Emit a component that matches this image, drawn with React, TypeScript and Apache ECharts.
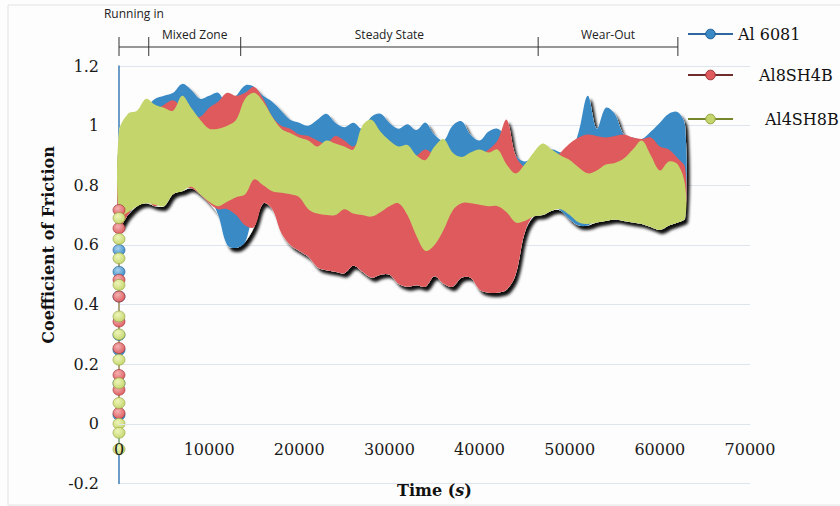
import React, { useEffect, useRef } from 'react';
import * as echarts from 'echarts';

// time samples (s)
const TIME = [
  0, 1000, 2000, 3000, 4000, 5000, 6000, 7000, 8000, 9000,
  10000, 11000, 12000, 13000, 14000, 15000, 16000, 17000, 18000, 19000,
  20000, 21000, 22000, 23000, 24000, 25000, 26000, 27000, 28000, 29000,
  30000, 31000, 32000, 33000, 34000, 35000, 36000, 37000, 38000, 39000,
  40000, 41000, 42000, 43000, 44000, 45000, 46000, 47000, 48000, 49000,
  50000, 51000, 52000, 53000, 54000, 55000, 56000, 57000, 58000, 59000,
  60000, 61000, 62000, 62800,
];

// Al 6081 envelope (upper / lower coefficient of friction)
const AL6081_HI = [
  0.95, 1.0, 1.03, 1.06, 1.09, 1.1, 1.11, 1.14, 1.12, 1.09,
  1.1, 1.11, 1.07, 1.1, 1.135, 1.13, 1.1, 1.08, 1.05, 1.02,
  1.01, 1.0, 1.02, 1.04, 1.01, 0.995, 1.01, 0.99, 1.03, 1.04,
  1.01, 0.99, 1.005, 0.985, 1.01, 0.97, 0.95, 1.0, 1.015, 0.97,
  0.95, 0.98, 0.99, 0.96, 0.9, 0.88, 0.895, 0.9, 0.92, 0.91,
  0.9, 0.98, 1.1, 0.99, 1.06, 1.04, 0.97, 0.96, 0.955, 0.98,
  1.01, 1.04, 1.045, 1.0,
];
const AL6081_LO = [
  0.68, 0.7, 0.74, 0.75, 0.74, 0.76, 0.78, 0.79, 0.8, 0.78,
  0.76, 0.7, 0.6, 0.59, 0.61, 0.72, 0.76, 0.74, 0.7, 0.66,
  0.66, 0.65, 0.64, 0.64, 0.65, 0.66, 0.65, 0.64, 0.64, 0.65,
  0.66, 0.65, 0.64, 0.65, 0.66, 0.65, 0.64, 0.65, 0.66, 0.65,
  0.64, 0.65, 0.66, 0.65, 0.66, 0.69, 0.705, 0.71, 0.725, 0.715,
  0.685, 0.665, 0.665, 0.685, 0.69, 0.695, 0.69, 0.685, 0.68, 0.67,
  0.66, 0.675, 0.685, 0.7,
];

// Al8SH4B envelope
const AL8SH4B_HI = [
  0.95, 0.98, 1.0, 1.04, 1.05, 1.07, 1.085, 1.06, 1.04, 1.03,
  1.06, 1.08, 1.11, 1.1, 1.11, 1.13, 1.09, 1.03, 1.0, 0.99,
  0.97, 0.965, 0.95, 0.94, 0.965, 0.95, 0.93, 0.96, 0.92, 0.93,
  0.92, 0.91, 0.9, 0.9, 0.92, 0.9, 0.89, 0.9, 0.89, 0.89,
  0.9, 0.92, 0.95, 1.02, 0.9, 0.86, 0.85, 0.86, 0.88, 0.91,
  0.94, 0.96, 0.97, 0.965, 0.96, 0.965, 0.97, 0.96, 0.955, 0.96,
  0.93, 0.92, 0.89, 0.86,
];
const AL8SH4B_LO = [
  0.66, 0.7, 0.74, 0.75, 0.73, 0.75, 0.77, 0.79, 0.79, 0.77,
  0.74, 0.72, 0.72, 0.7, 0.665, 0.66, 0.74, 0.72, 0.64, 0.6,
  0.58, 0.56, 0.525, 0.515, 0.51, 0.505, 0.53, 0.51, 0.49, 0.5,
  0.5, 0.47, 0.46, 0.465, 0.46, 0.495, 0.47, 0.46, 0.49, 0.49,
  0.45, 0.44, 0.44, 0.45, 0.5, 0.64, 0.7, 0.71, 0.72, 0.725,
  0.705, 0.685, 0.68, 0.685, 0.69, 0.695, 0.69, 0.685, 0.68, 0.67,
  0.66, 0.675, 0.685, 0.7,
];

// Al4SH8B envelope
const AL4SH8B_HI = [
  0.98, 1.04, 1.05, 1.09, 1.07, 1.06, 1.05, 1.1, 1.06, 1.02,
  0.99, 0.99, 1.0, 1.02, 1.09, 1.11, 1.08, 1.03, 0.99, 0.975,
  0.96, 0.95, 0.93, 0.95, 0.94, 0.93, 0.92, 1.0, 1.02, 0.98,
  0.95, 0.93, 0.935, 0.9, 0.885, 0.93, 0.955, 0.91, 0.895, 0.91,
  0.92, 0.91, 0.92, 0.87, 0.84, 0.87, 0.91, 0.94, 0.92, 0.9,
  0.885, 0.86, 0.84, 0.85, 0.87, 0.875, 0.89, 0.92, 0.95, 0.9,
  0.85, 0.88, 0.87, 0.8,
];
const AL4SH8B_LO = [
  0.7, 0.71, 0.73, 0.74, 0.735, 0.73, 0.77, 0.78, 0.795, 0.77,
  0.745, 0.73, 0.745, 0.76, 0.77, 0.82, 0.8, 0.78, 0.775, 0.77,
  0.76, 0.72, 0.705, 0.7, 0.7, 0.72, 0.705, 0.7, 0.695, 0.71,
  0.73, 0.74, 0.7, 0.63, 0.58, 0.6, 0.65, 0.715, 0.74, 0.74,
  0.735, 0.73, 0.73, 0.71, 0.675, 0.68, 0.695, 0.7, 0.715, 0.72,
  0.7, 0.675, 0.67, 0.675, 0.68, 0.685, 0.68, 0.675, 0.67, 0.66,
  0.65, 0.665, 0.675, 0.69,
];

// running-in readings at t = 0
const RUNIN_AL6081 = [0.583, 0.51, 0.427, 0.298, 0.248, 0.136, 0.03];
const RUNIN_AL8SH4B = [0.717, 0.656, 0.483, 0.427, 0.343, 0.254, 0.164, 0.114, 0.036];
const RUNIN_AL4SH8B = [0.69, 0.62, 0.555, 0.466, 0.36, 0.3, 0.215, 0.136, 0.07, 0.0, -0.03, -0.085];

const SERIES_NAMES = ['Al 6081', 'Al8SH4B', 'Al4SH8B'];
const PHASE_BOUNDS = [0, 3300, 13500, 46500, 62000];
const PHASE_NAMES = ['Running in', 'Mixed Zone', 'Steady State', 'Wear-Out'];
const Y_TITLE = 'Coefficient of Friction';

const X_TICKS = { min: 0, max: 70000, interval: 10000 };
const Y_TICKS = { min: -0.2, max: 1.2, interval: 0.2 };

const COLORS = ['#3a8ac6', '#de5a5d', '#c4d56c'];
const LIGHT = ['#a9d2ee', '#f3b3b3', '#eef5b9'];
const LEG_LINE = ['#2f67a0', '#6e2c2c', '#75862c'];
const LEG_BORDER = ['#1d5a8f', '#9a2e30', '#8fa03a'];

const serif = 'DejaVu Serif';

function bandSeries(name: string, lo: number[], hi: number[], style: any, z: number) {
  return {
    type: 'custom',
    name,
    data: TIME.map((t, i) => [t, lo[i], hi[i]]),
    encode: { x: 0, y: [1, 2] },
    silent: true,
    z,
    renderItem: (params: any, api: any) => {
      if (params.dataIndex !== 0) return null;
      const top = TIME.map((t, i) => api.coord([t, hi[i]]));
      const bot = TIME.map((t, i) => api.coord([t, lo[i]])).reverse();
      return {
        type: 'polygon',
        shape: { points: top.concat(bot), smooth: 0.35 },
        style,
      };
    },
  };
}

export default function App() {
  const ref = useRef<HTMLDivElement>(null);

  useEffect(() => {
    const chart = echarts.init(ref.current!, null, { renderer: 'svg' });

    const his = [AL6081_HI, AL8SH4B_HI, AL4SH8B_HI];
    const los = [AL6081_LO, AL8SH4B_LO, AL4SH8B_LO];
    const runs = [RUNIN_AL6081, RUNIN_AL8SH4B, RUNIN_AL4SH8B];

    const unionHi = TIME.map((_, i) => Math.max(his[0][i], his[1][i], his[2][i]));
    const unionLo = TIME.map((_, i) => Math.min(los[0][i], los[1][i], los[2][i]));

    const series: any[] = [];

    // running-in markers (line series so the legend shows line + circle)
    SERIES_NAMES.forEach((name, k) => {
      series.push({
        type: 'line', name,
        data: runs[k].map((v) => [0, v]),
        symbol: 'circle', symbolSize: [12, 11], showSymbol: true,
        lineStyle: { color: COLORS[k], width: 1 },
        itemStyle: {
          color: new echarts.graphic.RadialGradient(0.4, 0.35, 0.7, [
            { offset: 0, color: LIGHT[k] },
            { offset: 1, color: COLORS[k] },
          ]),
          borderColor: LEG_BORDER[k], borderWidth: 0.6,
        },
        z: 5,
        clip: false,
      });
    });

    // shadow of the whole band (union of all envelopes)
    series.push(bandSeries('_shadow', unionLo, unionHi, {
      fill: '#fdfdfd',
      shadowColor: 'rgba(0,0,0,0.95)', shadowBlur: 3, shadowOffsetX: 3, shadowOffsetY: 4,
    }, 2));

    SERIES_NAMES.forEach((name, k) => {
      series.push(bandSeries(name, los[k], his[k], { fill: COLORS[k] }, 3));
    });

    const legendTops = [26, 67, 111];
    const legendPad = [0, 21, 27];
    const legends = SERIES_NAMES.map((name, k) => ({
      left: 687, top: legendTops[k], orient: 'vertical',
      itemWidth: 45, itemHeight: 12, padding: 0,
      data: [{
        name,
        itemStyle: { color: COLORS[k], borderColor: LEG_BORDER[k], borderWidth: 1, opacity: 1 },
        lineStyle: { color: LEG_LINE[k], width: 2, opacity: 1 },
      }],
      textStyle: { fontFamily: serif, fontSize: 16, color: '#111', padding: [0, 0, 0, legendPad[k]] },
      selectedMode: false,
    }));

    const option: any = {
      animation: false,
      backgroundColor: '#fdfdfd',
      textStyle: { fontFamily: serif },
      grid: { left: 119, right: 90, top: 66, bottom: 22.5, containLabel: false, outerBoundsMode: 'none' },
      legend: legends,
      xAxis: {
        type: 'value', min: X_TICKS.min, max: X_TICKS.max, interval: X_TICKS.interval,
        position: 'bottom', offset: 0, z: 10,
        axisLine: { show: true, onZero: false, lineStyle: { color: '#dfe5ec', width: 1 } },
        axisTick: { show: false },
        splitLine: { show: false },
        axisLabel: {
          fontFamily: serif, fontSize: 16, color: '#1a1a1a', margin: 18,
          formatter: (v: number) => String(v),
        },
        name: '{a|Time (}{b|s}{a|)}',
        nameLocation: 'middle', nameGap: 59,
        nameTextStyle: {
          rich: {
            a: { fontFamily: serif, fontWeight: 'bold', fontSize: 16, color: '#111' },
            b: { fontFamily: serif, fontWeight: 'bold', fontStyle: 'italic', fontSize: 16, color: '#111' },
          },
        },
      },
      yAxis: {
        type: 'value', min: Y_TICKS.min, max: Y_TICKS.max, interval: Y_TICKS.interval,
        axisLine: { show: true, onZero: false, lineStyle: { color: '#3c7db5', width: 1.5 } },
        axisTick: { show: false },
        splitLine: { show: true, lineStyle: { color: '#dfe5ec', width: 1 } },
        axisLabel: {
          fontFamily: serif, fontSize: 16, color: '#1a1a1a', margin: 20,
          formatter: (v: number) => String(Math.round(v * 10) / 10),
        },
      },
      series,
    };

    chart.setOption(option);

    // put the horizontal axis (and its labels) on y = 0, as in the original
    const zeroY = chart.convertToPixel({ yAxisIndex: 0 }, 0) as number;
    const bottomY = chart.convertToPixel({ yAxisIndex: 0 }, Y_TICKS.min) as number;
    const titleY = chart.convertToPixel({ yAxisIndex: 0 }, 0.6) as number;

    const px = PHASE_BOUNDS.map((v) => chart.convertToPixel({ xAxisIndex: 0 }, v) as number);
    const g: any[] = [
      {
        type: 'rect', silent: true, z: -10,
        shape: { x: 8, y: 5, width: 840, height: 500 },
        style: { fill: 'none', stroke: '#e2e2e2', lineWidth: 1 },
      },
      {
        type: 'line', silent: true,
        shape: { x1: px[0], y1: 47, x2: px[px.length - 1], y2: 47 },
        style: { stroke: '#333', lineWidth: 1 },
      },
      {
        type: 'text', silent: true,
        x: 48, y: titleY, rotation: Math.PI / 2,
        style: {
          text: Y_TITLE, fontFamily: serif, fontWeight: 'bold', fontSize: 16, fill: '#111',
          align: 'center', verticalAlign: 'middle',
        },
      },
    ];
    px.forEach((p) => {
      g.push({
        type: 'line', silent: true,
        shape: { x1: p, y1: 37, x2: p, y2: 56 },
        style: { stroke: '#333', lineWidth: 1 },
      });
    });
    PHASE_NAMES.forEach((name, i) => {
      const cx = (px[i] + px[i + 1]) / 2;
      g.push({
        type: 'text', silent: true,
        x: cx, y: i === 0 ? 13 : 34,
        style: {
          text: name, fontFamily: 'Open Sans', fontSize: 12, fill: '#222',
          align: 'center', verticalAlign: 'middle',
        },
      });
    });
    chart.setOption({ xAxis: { offset: -(bottomY - zeroY) }, graphic: g });

    return () => chart.dispose();
  }, []);

  return (
    <div
      ref={ref}
      style={{ position: 'fixed', left: 0, top: 0, width: 840, height: 506 }}
    />
  );
}
